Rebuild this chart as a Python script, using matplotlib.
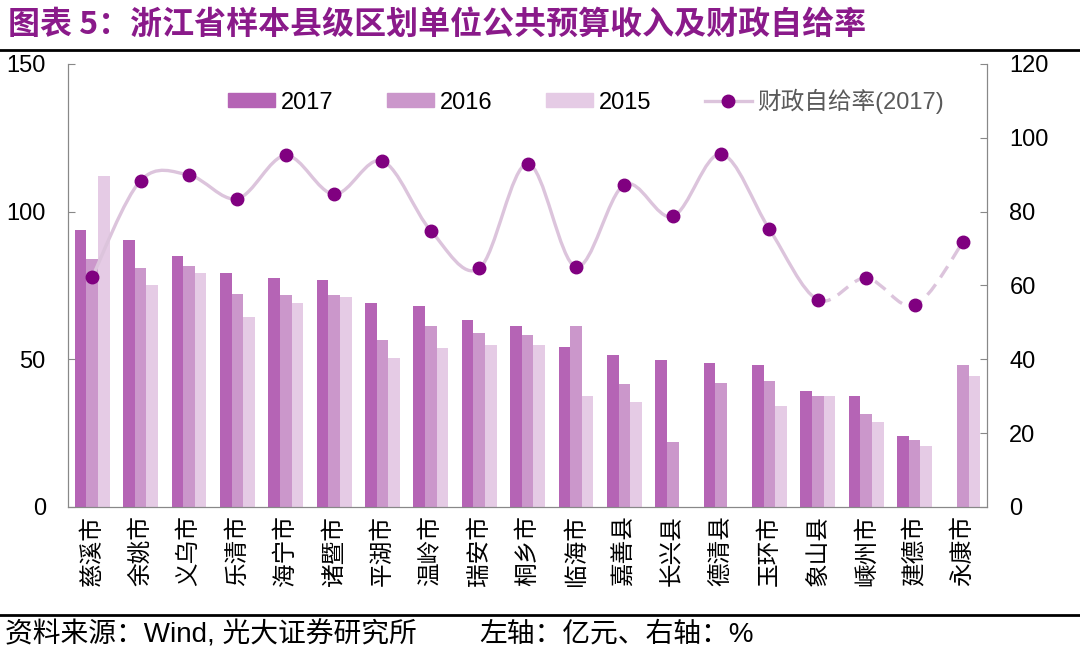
import matplotlib.pyplot as plt
import numpy as np
from matplotlib.path import Path
from matplotlib.patches import PathPatch
from matplotlib.lines import Line2D

plt.rcParams['font.family'] = ['Liberation Sans', 'Noto Sans CJK SC', 'DejaVu Sans']

#
# Data
#
regions = ["慈溪市", "余姚市", "义乌市", "乐清市", "海宁市", "诸暨市", "平湖市", "温岭市",
           "瑞安市", "桐乡市", "临海市", "嘉善县", "长兴县", "德清县", "玉环市", "象山县",
           "嵊州市", "建德市", "永康市"]
rev_2017 = [93.8, 90.5, 85.0, 79.3, 77.4, 77.0, 69.0, 68.0, 63.2, 61.4, 54.3, 51.6, 49.7,
            48.7, 48.2, 39.2, 37.7, 24.1, np.nan]
rev_2016 = [84.0, 81.0, 81.6, 72.2, 71.8, 71.8, 56.5, 61.4, 59.0, 58.1, 61.4, 41.5, 22.1,
            42.0, 42.6, 37.7, 31.6, 22.7, 48.1]
rev_2015 = [112.0, 75.0, 79.2, 64.2, 69.0, 71.2, 50.6, 53.8, 54.7, 54.7, 37.7, 35.4, np.nan,
            np.nan, 34.3, 37.7, 28.8, 20.8, 44.4]
self_ratio = [62.3, 88.4, 89.9, 83.5, 95.2, 84.7, 93.7, 74.8, 64.6, 93.0, 65.0, 87.3, 78.7,
              95.6, 75.2, 56.1, 62.0, 54.6, 71.7]

c17, c16, c15 = "#b564b5", "#cb97cb", "#e5cbe5"
line_c, dot_c = "#dcc4dc", "#800080"

fig = plt.figure(figsize=(10.8, 6.53), dpi=100)
ax = fig.add_axes([0.063, 0.2236, 0.851, 0.6785])
ax2 = ax.twinx()

x = np.arange(len(regions))
w = 0.24
ax.bar(x - w, rev_2017, w, color=c17, label="2017")
ax.bar(x, rev_2016, w, color=c16, label="2016")
ax.bar(x + w, rev_2015, w, color=c15, label="2015")

# smoothed ratio line (Bezier through the points), dashed on the last segments
pts = np.column_stack([x, self_ratio])


def bezier_path(i0, i1):
    verts = [pts[i0]]
    codes = [Path.MOVETO]
    n = len(pts)
    for i in range(i0, i1):
        p0 = pts[max(i - 1, 0)]
        p1, p2 = pts[i], pts[i + 1]
        p3 = pts[min(i + 2, n - 1)]
        verts += [p1 + (p2 - p0) / 6, p2 - (p3 - p1) / 6, p2]
        codes += [Path.CURVE4] * 3
    return Path(verts, codes)


ax2.add_patch(PathPatch(bezier_path(0, 15), fill=False, ec=line_c, lw=2.4, zorder=3))
ax2.add_patch(PathPatch(bezier_path(15, 18), fill=False, ec=line_c, lw=2.4,
                        linestyle=(0, (4, 2.5)), zorder=3))
ax2.plot(x, self_ratio, "o", color=dot_c, ms=9, zorder=4)

ax.set_xlim(-0.5, len(regions) - 0.5)
ax.set_ylim(0, 150)
ax2.set_ylim(0, 120)
ax.set_yticks([0, 50, 100, 150])
ax2.set_yticks(range(0, 121, 20))
ax.set_xticks(x)
ax.set_xticklabels(regions, rotation=90, fontsize=17, family=['Noto Sans CJK SC'])
ax.tick_params(axis='x', length=0, pad=6)
ax.tick_params(axis='y', direction='in', length=5, labelsize=17, color='#888888', pad=16)
ax2.tick_params(axis='y', direction='in', length=5, labelsize=17, color='#888888', pad=16)
for a in (ax, ax2):
    a.spines['top'].set_visible(False)
    for s in ('left', 'right', 'bottom'):
        a.spines[s].set_color('#888888')

handles = [plt.Rectangle((0, 0), 1, 1, color=c) for c in (c17, c16, c15)]
handles.append(Line2D([], [], color=line_c, lw=2.4, marker='o', mfc=dot_c, mec=dot_c, ms=9))
leg = ax.legend(handles, ["2017", "2016", "2015", "财政自给率(2017)"], ncol=4, frameon=False,
                loc='center left', bbox_to_anchor=(228 / 1080, 1 - 101 / 653),
                bbox_transform=fig.transFigure, borderpad=0, borderaxespad=0, fontsize=17,
                handlelength=2.0, handleheight=0.55, columnspacing=2.25, handletextpad=0.25)
leg.get_texts()[3].set_color('#5a5a5a')

fig.text(0.007, 0.962, "图表 5：浙江省样本县级区划单位公共预算收入及财政自给率", fontsize=23,
         fontweight='bold', color='#8a1a8a', va='center', family=['Noto Sans CJK SC'])
fig.add_artist(Line2D([0, 1], [0.924, 0.924], color='black', lw=2))
fig.add_artist(Line2D([0, 1], [0.058, 0.058], color='black', lw=2))
fig.text(0.005, 0.028, "资料来源：Wind, 光大证券研究所", fontsize=20, va='center')
fig.text(0.444, 0.028, "左轴：亿元、右轴：%", fontsize=20, va='center')

plt.savefig("out.png", dpi=100)
